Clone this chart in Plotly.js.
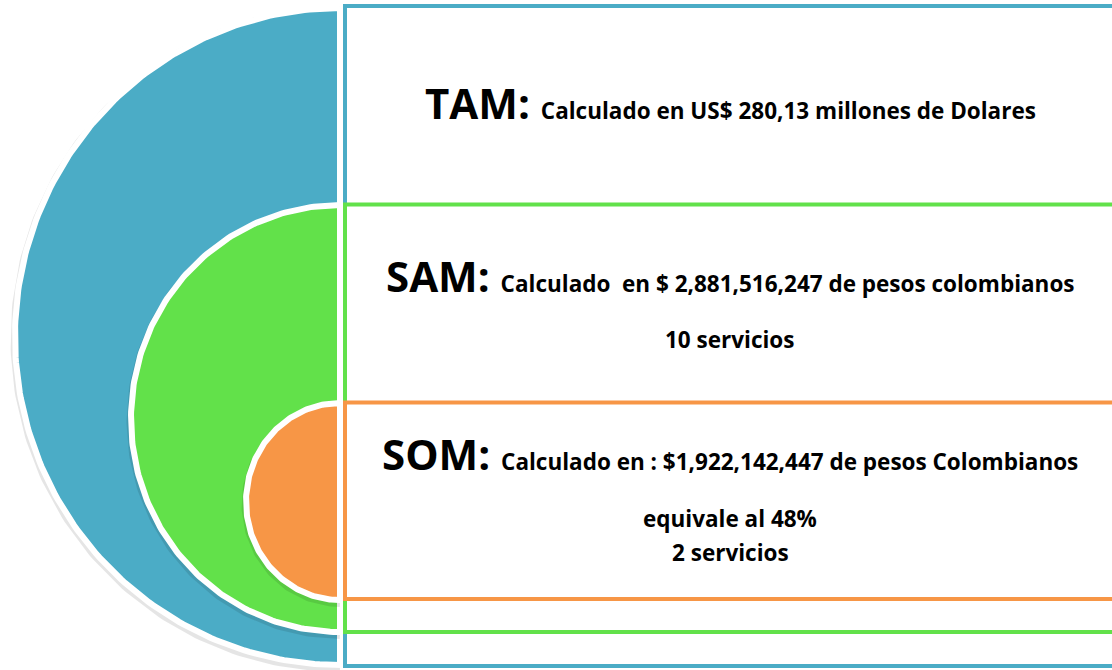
<!DOCTYPE html>
<html>
<head>
<meta charset="utf-8">
<script src="https://cdn.plot.ly/plotly-3.0.1.min.js"></script>
<style>html,body{margin:0;padding:0;background:#fff;}#chart{width:1112px;height:670px;}</style>
</head>
<body>
<div id="chart"></div>
<script>
// ---- content ----
const markets = ['TAM', 'SAM', 'SOM'];
const descriptions = [
  'Calculado en US$ 280,13 millones de Dolares',
  'Calculado&nbsp; en $ 2,881,516,247 de pesos colombianos',
  'Calculado en : $1,922,142,447 de pesos Colombianos'
];
const extraLines = [
  [],
  ['10 servicios'],
  ['equivale al 48%', '2 servicios']
];

// ---- layout geometry (pixel-like axis units) ----
const colors = ['#4BACC6', '#62E14A', '#F79646'];
const ellipses = [            // straight edge x, top, bottom, leftmost x (stroke centre)
  {edge: 340, top: 8,   bottom: 665, left: 15},
  {edge: 340, top: 205, bottom: 632, left: 131},
  {edge: 340, top: 403, bottom: 600, left: 246}
];
const boxes = [               // left, top, bottom
  {x0: 345, y0: 6,     y1: 666},
  {x0: 345, y0: 204.5, y1: 632},
  {x0: 345, y0: 402.5, y1: 599}
];
const headY = [102, 275, 453];
const extraY = [[], [339], [518, 552]];

function halfEllipse(e, n, dy) {
  const cy = (e.top + e.bottom) / 2 + (dy || 0), ry = (e.bottom - e.top) / 2, rx = e.edge - e.left;
  const xs = [], ys = [];
  for (let i = 0; i <= n; i++) {
    const t = -Math.PI / 2 + Math.PI * i / n;
    xs.push(e.edge - rx * Math.cos(t));
    ys.push(cy + ry * Math.sin(t));
  }
  return {xs, ys};
}

const traces = [];
ellipses.forEach((e, i) => {
  const s = halfEllipse(e, 200, 2.5);
  traces.push({x: s.xs, y: s.ys, mode: 'lines', line: {color: 'rgba(0,0,0,0.10)', width: 9}, hoverinfo: 'skip', showlegend: false});
  const p = halfEllipse(e, 200, 0);
  p.xs.push(p.xs[0]); p.ys.push(p.ys[0]);
  traces.push({
    x: p.xs, y: p.ys, mode: 'lines', fill: 'toself', fillcolor: colors[i],
    line: {color: '#ffffff', width: 6}, hoverinfo: 'skip', showlegend: false
  });
});

const shapes = boxes.map((b, i) => ({
  type: 'rect', xref: 'x', yref: 'y', x0: b.x0, x1: 1116, y0: b.y0, y1: b.y1,
  fillcolor: '#ffffff', line: {color: colors[i], width: 4}, layer: 'above'
}));

const annotations = [];
markets.forEach((m, i) => {
  annotations.push({
    xref: 'x', yref: 'y', x: 730, y: headY[i], xanchor: 'center', yanchor: 'middle', showarrow: false,
    text: '<b><span style="font-size:42px">' + m + ': </span>' + descriptions[i] + '</b>',
    font: {family: 'Open Sans, sans-serif', size: 22.5, color: '#000'}
  });
  extraLines[i].forEach((t, j) => {
    annotations.push({
      xref: 'x', yref: 'y', x: 730, y: extraY[i][j], xanchor: 'center', yanchor: 'middle', showarrow: false,
      text: '<b>' + t + '</b>',
      font: {family: 'Open Sans, sans-serif', size: 22.5, color: '#000'}
    });
  });
});

const layout = {
  width: 1112, height: 670, margin: {l: 0, r: 0, t: 0, b: 0},
  paper_bgcolor: '#ffffff', plot_bgcolor: '#ffffff',
  xaxis: {range: [0, 1112], visible: false, fixedrange: true},
  yaxis: {range: [670, 0], visible: false, fixedrange: true},
  shapes: shapes, annotations: annotations, showlegend: false
};

Plotly.newPlot('chart', traces, layout, {staticPlot: true, displayModeBar: false});
</script>
</body>
</html>
